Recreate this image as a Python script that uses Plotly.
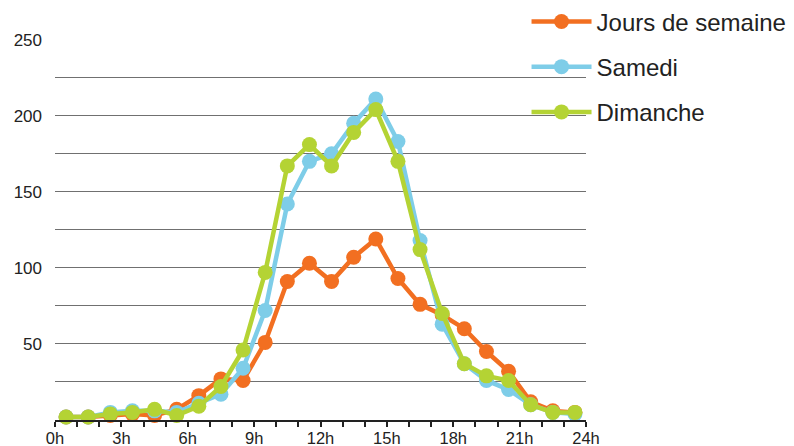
import plotly.graph_objects as go

hours = [h + 0.5 for h in range(24)]
tick_vals = [0, 3, 6, 9, 12, 15, 18, 21, 24]
tick_text = ["0h", "3h", "6h", "9h", "12h", "15h", "18h", "21h", "24h"]
y_tick_vals = [50, 100, 150, 200, 250]

semaine = [2, 2, 3, 4, 3, 7, 16, 27, 26, 51, 91, 103, 91, 107, 119, 93, 76, 69, 60, 45, 32, 12, 6, 5]
samedi = [2, 2, 5, 6, 6, 5, 11, 17, 34, 72, 142, 170, 175, 195, 211, 183, 118, 63, 37, 26, 20, 10, 5, 4]
dimanche = [2, 2, 4, 5, 7, 3, 9, 22, 46, 97, 167, 181, 167, 189, 204, 170, 112, 70, 37, 29, 26, 10, 5, 5]

series = [
    ("Jours de semaine", semaine, "#F26F21"),
    ("Samedi", samedi, "#7ECDE8"),
    ("Dimanche", dimanche, "#B4D334"),
]

fig = go.Figure()
for name, vals, col in series:
    fig.add_trace(go.Scatter(
        x=hours, y=vals, name=name, mode="lines+markers",
        line=dict(color=col, width=4.5),
        marker=dict(color=col, size=15),
        cliponaxis=False, legendgroup=name,
    ))

fig.update_layout(
    width=786, height=438,
    margin=dict(l=47, r=208, t=31, b=26, autoexpand=False),
    paper_bgcolor="white", plot_bgcolor="white",
    font=dict(family="Liberation Sans, Arial, sans-serif", color="#222222"),
    showlegend=True,
    legend=dict(x=0.888, y=1.104, xanchor="left", yanchor="top",
                font=dict(size=24, color="#222222"),
                itemwidth=60, tracegroupgap=11, traceorder="grouped",
                bgcolor="rgba(0,0,0,0)"),
    xaxis=dict(range=[0, 24], tickvals=tick_vals, ticktext=tick_text,
               showgrid=False, zeroline=False, showline=True, automargin=False,
               linecolor="#222222", linewidth=1.5,
               ticks="outside", ticklen=5, tickcolor="#222222", tickwidth=1.5,
               ticklabelstandoff=-3,
               minor=dict(dtick=1, tick0=0, ticks="outside", ticklen=5,
                          tickcolor="#222222", tickwidth=1.5),
               tickfont=dict(size=16.5)),
    yaxis=dict(range=[0, 250.4], tickvals=y_tick_vals,
               showgrid=True, gridcolor="#707070", gridwidth=1.4,
               zeroline=False, showline=False, ticks="", automargin=False,
               ticklabelstandoff=12,
               minor=dict(dtick=25, tick0=0, showgrid=True, gridcolor="#707070", gridwidth=1.4),
               tickfont=dict(size=17)),
)

fig.write_html("out.html")
